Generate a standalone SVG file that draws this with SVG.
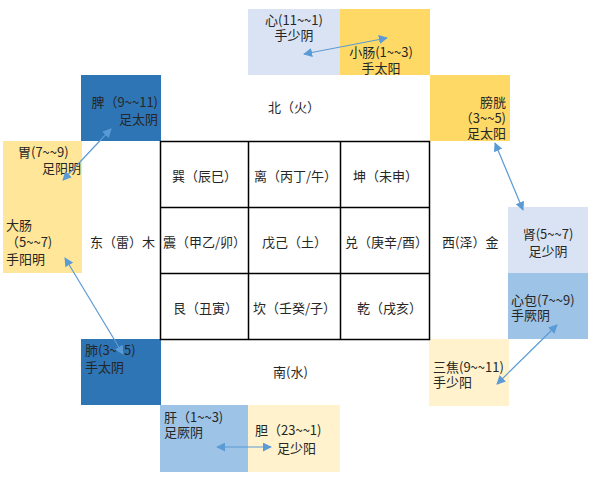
<svg xmlns="http://www.w3.org/2000/svg" width="594" height="478" viewBox="0 0 594 478">
<style>
text{font-family:"Noto Sans CJK SC","Liberation Sans",sans-serif;font-size:13px;fill:#262626}
.m{text-anchor:middle}.e{text-anchor:end}
.grid{fill:none;stroke:#000;stroke-width:1.5}
.conn{fill:none;stroke:#5b9bd5;stroke-width:1.2;marker-start:url(#ah);marker-end:url(#ah)}
</style>
<defs>
<marker id="ah" viewBox="0 0 10 10" refX="9" refY="5" markerWidth="9" markerHeight="9" markerUnits="userSpaceOnUse" orient="auto-start-reverse"><path d="M0,0L10,5L0,10z" fill="#5b9bd5"/></marker>
</defs>
<rect width="594" height="478" fill="#fff"/>
<g id="xin"><rect x="248" y="9" width="92" height="66" fill="#dae3f3"/><text class="m" x="294" y="24.5">心(11~~1)</text><text class="m" x="294" y="40">手少阴</text></g>
<g id="xiaochang"><rect x="340" y="9" width="90" height="66" fill="#ffd966"/><text class="m" x="381" y="56.5">小肠(1~~3)</text><text class="m" x="381" y="73">手太阳</text></g>
<g id="pangguang"><rect x="430" y="75" width="80" height="66" fill="#ffd966"/><text class="e" x="506" y="106.5">膀胱</text><text class="e" x="506" y="122.5">（3~~5)</text><text class="e" x="506" y="137.5">足太阳</text></g>
<g id="pi"><rect x="81" y="75" width="80" height="66" fill="#2e75b6"/><text class="e" x="158" y="106.5">脾（9~~11)</text><text class="e" x="158" y="123.5">足太阴</text></g>
<g id="wei"><rect x="3" y="141" width="79" height="66" fill="#ffe699"/><text x="18" y="156.5">胃(7~~9)</text><text x="42" y="172.5">足阳明</text></g>
<g id="dachang"><rect x="3" y="207" width="79" height="66" fill="#ffe699"/><text x="6" y="229.5">大肠</text><text x="6" y="246.5">（5~~7)</text><text x="6" y="263.5">手阳明</text></g>
<g id="shen"><rect x="508" y="207" width="80" height="66" fill="#dae3f3"/><text class="m" x="548" y="238.5">肾(5~~7)</text><text class="m" x="548" y="255.5">足少阴</text></g>
<g id="xinbao"><rect x="508" y="273" width="80" height="66" fill="#9dc3e6"/><text x="511" y="304.5">心包(7~~9)</text><text x="511" y="319.5">手厥阴</text></g>
<g id="sanjiao"><rect x="429" y="339" width="80" height="67" fill="#fff2cc"/><text x="433" y="371.5">三焦(9~~11)</text><text x="433" y="386.5">手少阳</text></g>
<g id="fei"><rect x="81" y="339" width="80" height="66" fill="#2e75b6"/><text x="85" y="354.5">肺(3~~5)</text><text x="85" y="371.5">手太阴</text></g>
<g id="gan"><rect x="160" y="405" width="88" height="67" fill="#9dc3e6"/><text x="164" y="421.5">肝（1~~3)</text><text x="164" y="436.5">足厥阴</text></g>
<g id="dan"><rect x="248" y="405" width="92" height="67" fill="#fff2cc"/><text x="255" y="434.5">胆（23~~1)</text><text x="277" y="452.5">足少阳</text></g>
<g id="directions"><text x="268" y="112">北（火）</text><text x="273" y="377">南(水)</text><text x="90" y="246.5">东（雷）木</text><text x="442" y="246.5">西(泽）金</text></g>
<g id="bagua">
<rect class="grid" x="160.5" y="141.5" width="269" height="198"/>
<path class="grid" d="M248.5,141.5V339.5M340.5,141.5V339.5M160.5,207.5H429.5M160.5,273.5H429.5"/>
<text x="172" y="180.5">巽（辰巳）</text><text x="254" y="180.5">离（丙丁/午）</text><text x="353" y="180.5">坤（未申）</text>
<text x="163" y="246.5">震（甲乙/卯）</text><text x="262" y="246.5">戊己（土）</text><text x="345" y="246.5">兑（庚辛/酉）</text>
<text x="173" y="312.5">艮（丑寅）</text><text x="253" y="312.5">坎（壬癸/子）</text><text x="357" y="312.5">乾（戌亥）</text>
</g>
<g id="connectors">
<path class="conn" d="M304,54L387,38"/>
<path class="conn" d="M111,129L63,180"/>
<path class="conn" d="M495,143L523,210"/>
<path class="conn" d="M65,258L123,354"/>
<path class="conn" d="M557,325L497,384"/>
<path class="conn" d="M217,447L271,447"/>
</g>
</svg>
